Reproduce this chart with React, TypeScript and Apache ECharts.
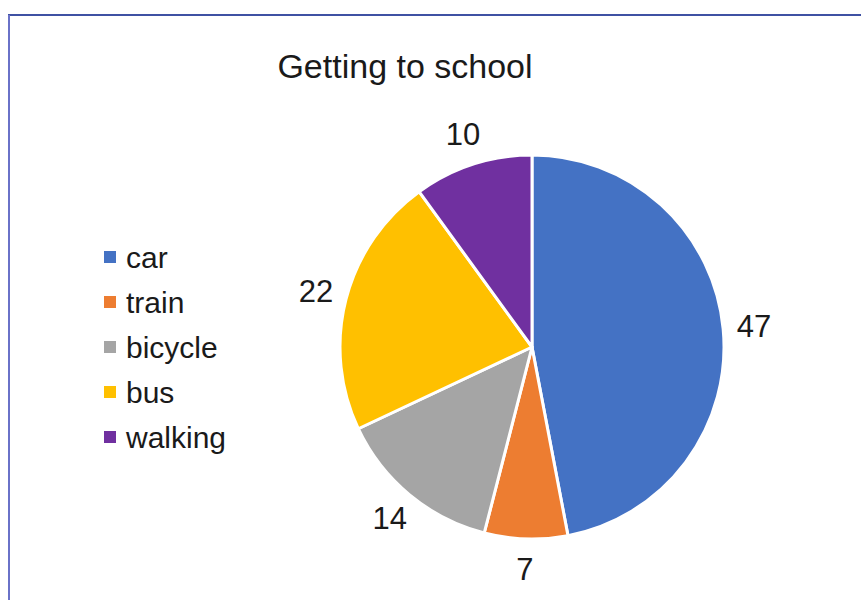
import React, { useEffect, useRef } from "react";
import * as echarts from "echarts";

const categories = ["car", "train", "bicycle", "bus", "walking"];
const values = [47, 7, 14, 22, 10];
const colors = ["#4472c4", "#ed7d31", "#a5a5a5", "#ffc000", "#7030a0"];
const title = "Getting to school";

export default function App() {
  const ref = useRef<HTMLDivElement>(null);
  useEffect(() => {
    if (!ref.current) return;
    const chart = echarts.init(ref.current, undefined, { renderer: "svg" });
    const font = "'Liberation Sans', Arial, sans-serif";
    const center = [532, 347];
    chart.setOption({
      animation: false,
      backgroundColor: "#ffffff",
      title: {
        text: title,
        left: 400,
        top: 44,
        textAlign: "center",
        textStyle: { fontFamily: font, fontSize: 34, fontWeight: "normal", color: "#1a1a1a", lineHeight: 34 },
      },
      legend: {
        orient: "vertical",
        left: 97,
        top: 237,
        icon: "rect",
        itemWidth: 14,
        itemHeight: 14,
        itemGap: 15,
        textStyle: { fontFamily: font, fontSize: 30, color: "#1a1a1a", lineHeight: 30, padding: [0, 0, 0, 4] },
        data: categories,
      },
      graphic: [
        { type: "line", shape: { x1: 8, y1: 15, x2: 861, y2: 15 }, style: { stroke: "#3f51a3", lineWidth: 2 } },
        { type: "line", shape: { x1: 9, y1: 15, x2: 9, y2: 600 }, style: { stroke: "#6a72c8", lineWidth: 2 } },
      ],
      series: [
        {
          type: "pie",
          center,
          radius: [0, 192],
          startAngle: 90,
          clockwise: true,
          itemStyle: { borderColor: "#ffffff", borderWidth: 3 },
          label: { show: false },
          labelLine: { show: false },
          data: categories.map((name, i) => ({ name, value: values[i], itemStyle: { color: colors[i] } })),
        },
        {
          type: "pie",
          center,
          radius: [0, 440],
          startAngle: 90,
          clockwise: true,
          silent: true,
          legendHoverLink: false,
          z: 1,
          itemStyle: { color: "rgba(0,0,0,0)", borderWidth: 0 },
          label: {
            show: true,
            position: "inside",
            formatter: "{c}",
            fontFamily: font,
            fontSize: 31,
            color: "#1a1a1a",
          },
          labelLine: { show: false },
          data: categories.map((name, i) => ({ name, value: values[i] })),
        },
      ],
    });
    return () => chart.dispose();
  }, []);
  return <div ref={ref} style={{ position: "absolute", left: 0, top: 0, width: 861, height: 600 }} />;
}
